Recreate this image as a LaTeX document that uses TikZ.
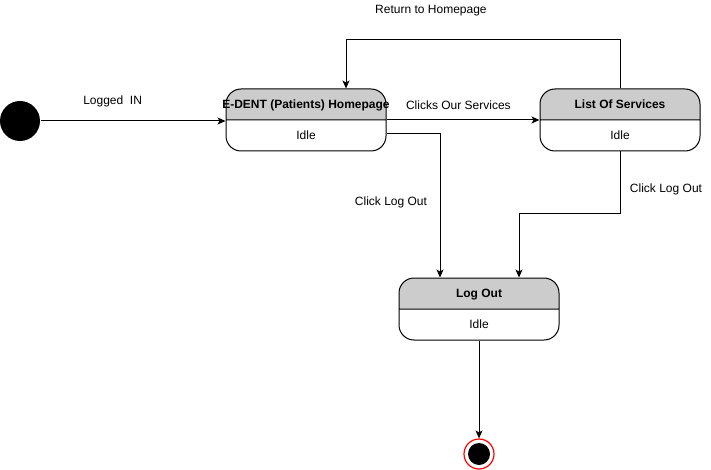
\documentclass[tikz,border=0pt]{standalone}
\usepackage{fontspec}
\setmainfont{Liberation Sans}
\usetikzlibrary{shapes.multipart,arrows.meta}
\definecolor{headgray}{HTML}{CCCCCC}
\newcommand{\partstrut}{\rule[-11pt]{0pt}{30pt}}
\newcommand{\statebody}[2]{\makebox[160pt]{\partstrut\bfseries #1}\nodepart{two}\makebox[160pt]{\partstrut #2}}

\begin{document}
\begin{tikzpicture}[x=1pt,y=-1pt,font=\fontsize{12}{14}\selectfont,line width=1pt,
  state/.style={rectangle split,rectangle split parts=2,draw,rounded corners=15pt,
    inner xsep=0pt,inner ysep=0pt,minimum width=160pt,anchor=center,
    rectangle split part fill={headgray,white}},
  flow/.style={-{Stealth[length=8pt,width=7pt,inset=2pt]}}]
  \useasboundingbox (0,0) rectangle (711,470);
  \node[circle,fill=black,minimum size=40pt,inner sep=0pt] (start) at (20,121) {};
  \node[state] (home) at (306,120) {\statebody{E-DENT (Patients) Homepage}{Idle}};
  \node[state] (services) at (620,120) {\statebody{List Of Services}{Idle}};
  \node[state] (logout) at (479,309) {\statebody{Log Out}{Idle}};
  \node[circle,draw=red,line width=1.2pt,fill=white,minimum size=30pt,inner sep=0pt] (end) at (479,454) {};
  \node[circle,fill=black,minimum size=22pt,inner sep=0pt] (endcore) at (end) {};

  \coordinate (ret) at (346,40);
  \coordinate (bendleft) at (440,134);
  \coordinate (bendright) at (620,214);

  \draw[flow] (start.east) -- node[pos=0.39,yshift=20pt]{Logged\ \ IN} (start.east -| home.west);
  \draw[flow] (home.text split east) -- node[pos=0.47,yshift=15pt]{Clicks Our Services} (home.text split east -| services.west);
  \draw[flow] (services.north) -- (services.north |- ret) -- node[pos=0.69,yshift=29pt]{Return to Homepage} (ret) -- (ret |- home.north);
  \draw[flow] (bendleft -| home.east) -- (bendleft) -- node[pos=0.476,xshift=-49pt]{Click Log Out} (bendleft |- logout.north);
  \draw[flow] (services.south) -- node[pos=0.61,xshift=46pt]{Click Log Out} (bendright) -| ([xshift=40pt]logout.north);
  \draw[flow] (logout.south) -- (end.north);
\end{tikzpicture}
\end{document}
